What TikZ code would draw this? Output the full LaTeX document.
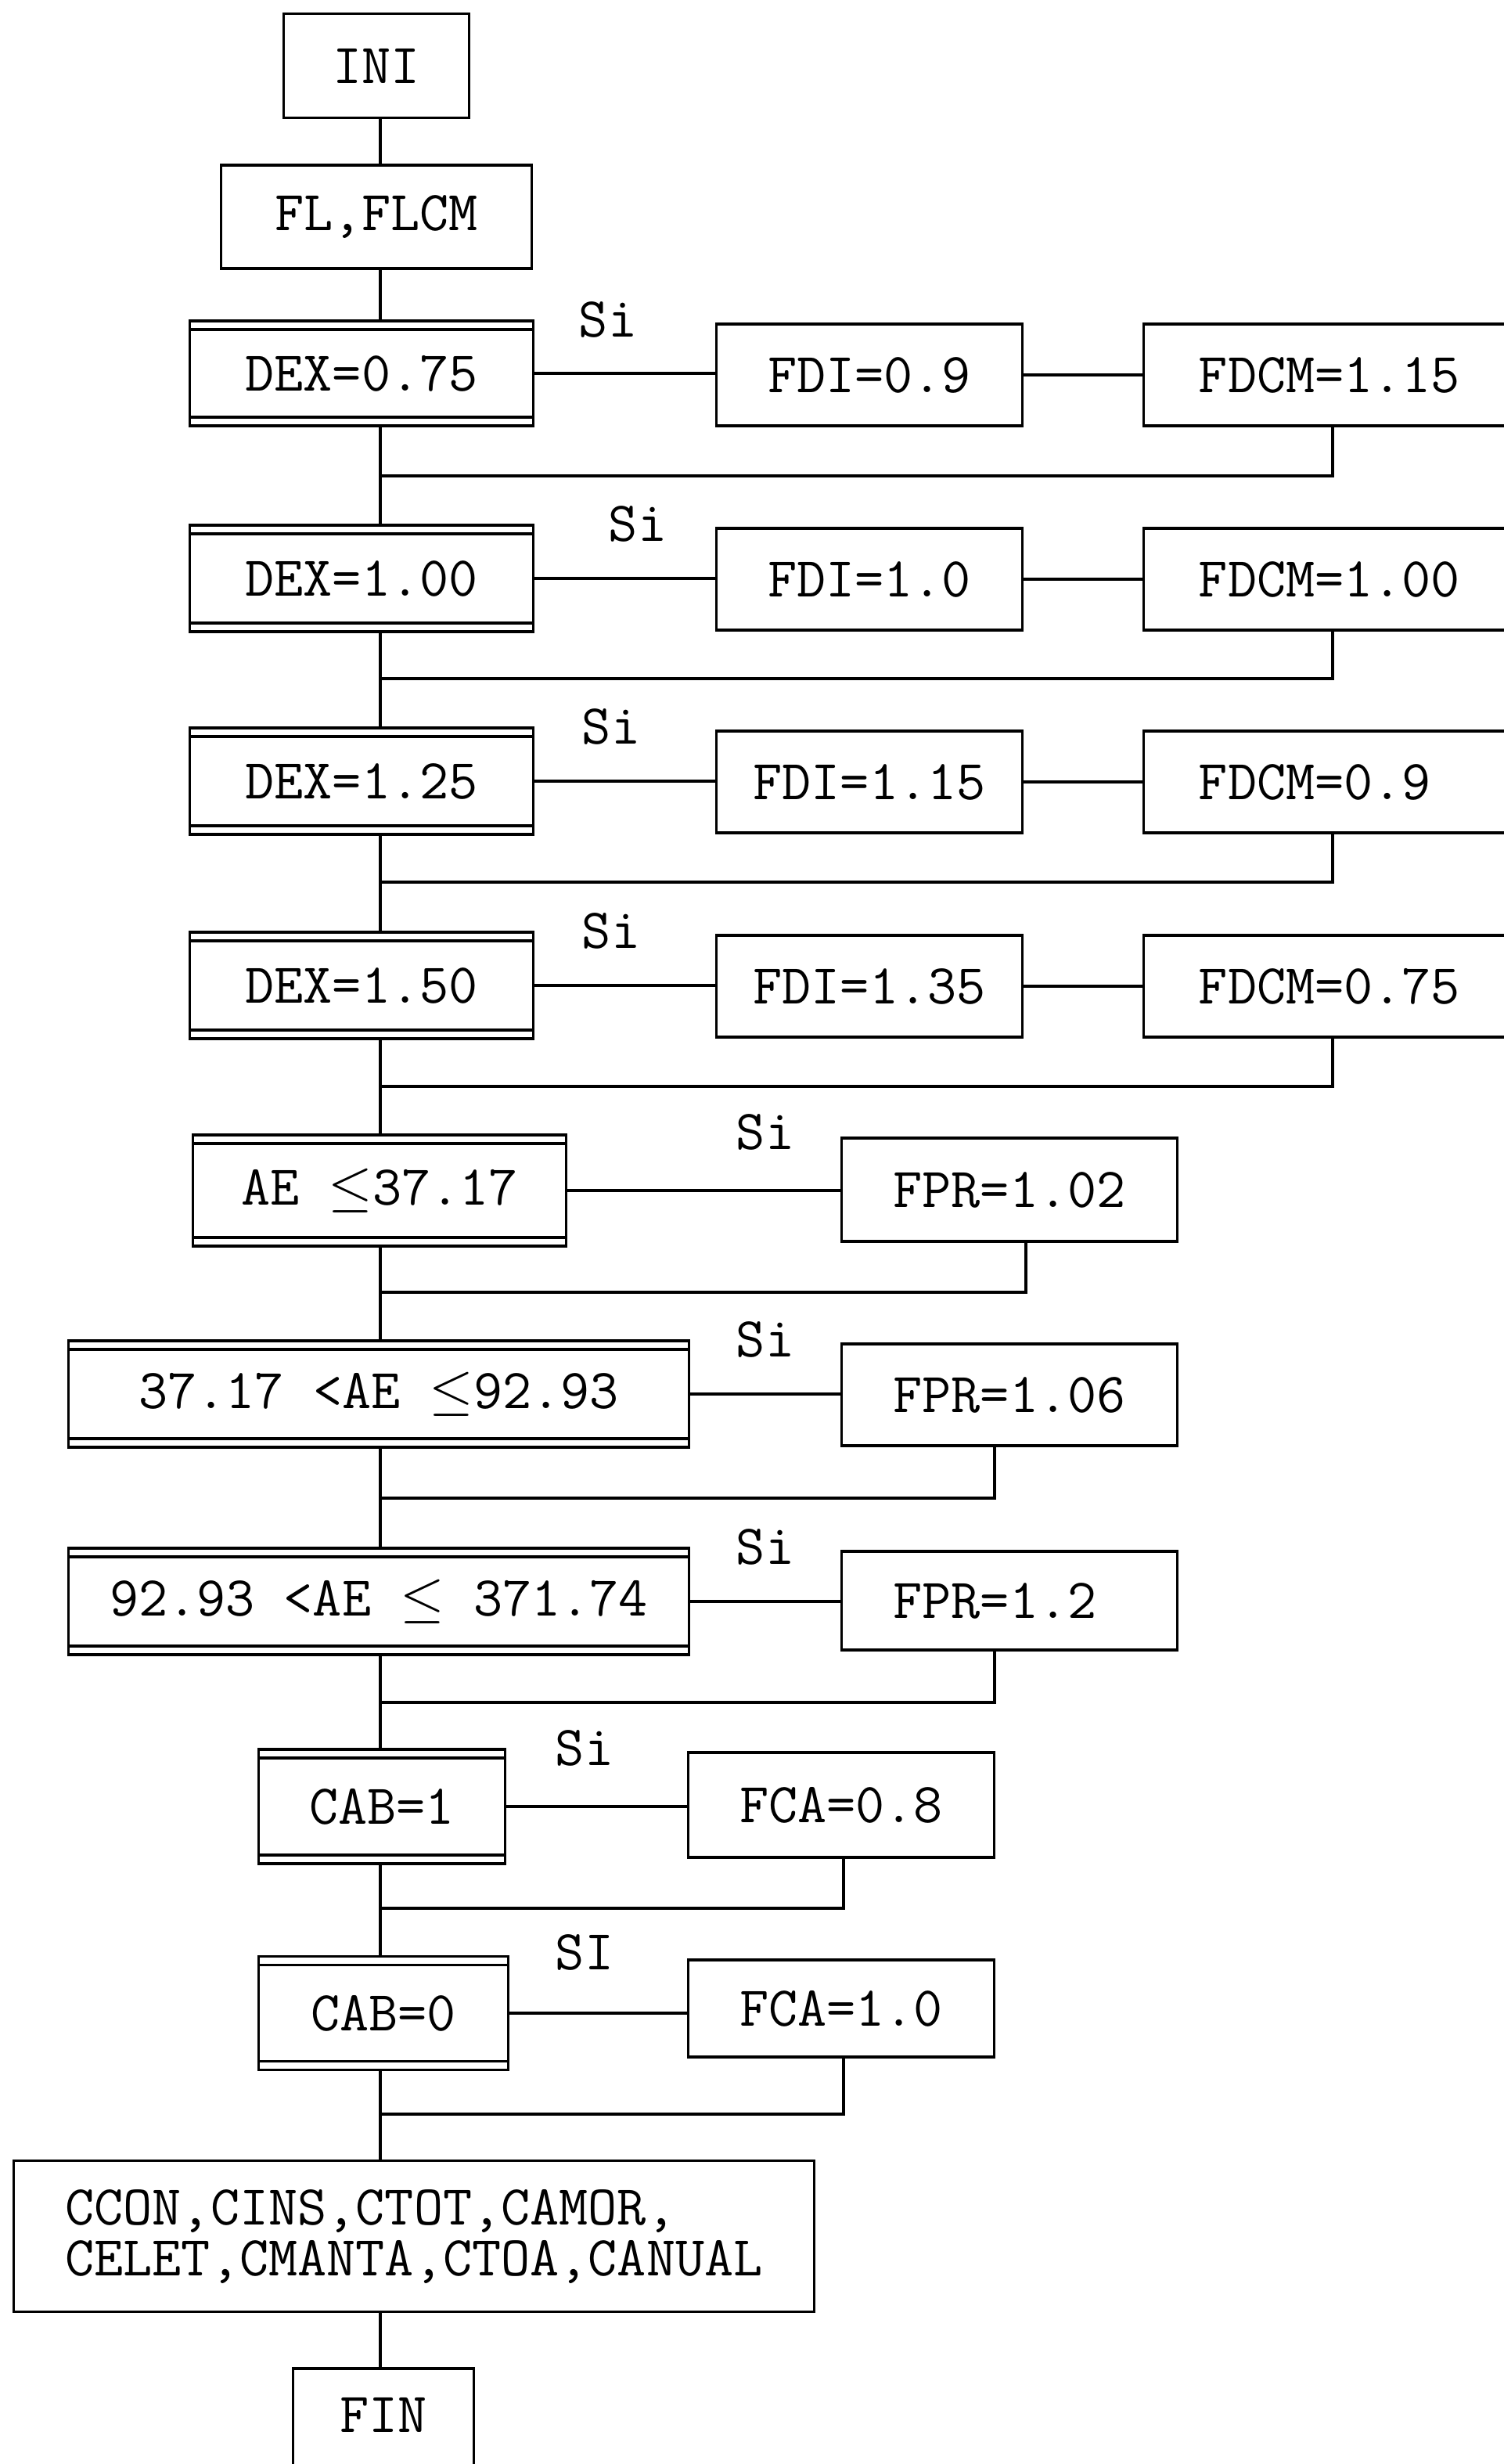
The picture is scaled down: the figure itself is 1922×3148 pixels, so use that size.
\documentclass[tikz,border=0pt]{standalone}
\newcommand{\myfont}{\ttfamily\fontsize{20.5}{27}\selectfont}
\tikzset{
  bx/.style={draw, line width=0.9pt, inner sep=0pt, font=\myfont},
  dec/.style={bx, path picture={
      \draw[line width=0.9pt] ([yshift=-0.11cm]path picture bounding box.north west) -- ([yshift=-0.11cm]path picture bounding box.north east);
      \draw[line width=0.9pt] ([yshift=0.11cm]path picture bounding box.south west) -- ([yshift=0.11cm]path picture bounding box.south east);}},
  ln/.style={line width=0.9pt},
  lbl/.style={font=\myfont, inner sep=0pt}
}
\begin{document}
\begin{tikzpicture}[x=0.01cm,y=-0.01cm]
\useasboundingbox (0,0) rectangle (1922,3148);
\clip (0,0) rectangle (1922,3148);
\coordinate (t) at (486,0);
% top
\node[bx, minimum width=2.37cm, minimum height=1.33cm] (ini) at (481,84) {INI};
\node[bx, minimum width=3.96cm, minimum height=1.32cm] (fl) at (481,277) {FL,FLCM};
% DEX rows
\node[dec, minimum width=4.38cm, minimum height=1.34cm] (dex1) at (462,477) {DEX=0.75};
\node[bx, minimum width=3.91cm, minimum height=1.30cm] (fdi1) at (1111,479) {FDI=0.9};
\node[bx, minimum width=6.00cm, minimum height=1.30cm, text width=4.6cm, align=left] (fdcm1) at (1762,479) {FDCM=1.15};
\node[lbl] (s1) at (777,408) {Si};

\node[dec, minimum width=4.38cm, minimum height=1.36cm] (dex2) at (462,739) {DEX=1.00};
\node[bx, minimum width=3.91cm, minimum height=1.30cm] (fdi2) at (1111,740) {FDI=1.0};
\node[bx, minimum width=6.00cm, minimum height=1.30cm, text width=4.6cm, align=left] (fdcm2) at (1762,740) {FDCM=1.00};
\node[lbl] (s2) at (815,669) {Si};

\node[dec, minimum width=4.38cm, minimum height=1.36cm] (dex3) at (462,998) {DEX=1.25};
\node[bx, minimum width=3.91cm, minimum height=1.30cm] (fdi3) at (1111,999) {FDI=1.15};
\node[bx, minimum width=6.00cm, minimum height=1.30cm, text width=4.6cm, align=left] (fdcm3) at (1762,999) {FDCM=0.9};
\node[lbl] (s3) at (781,928) {Si};

\node[dec, minimum width=4.38cm, minimum height=1.36cm] (dex4) at (462,1259) {DEX=1.50};
\node[bx, minimum width=3.91cm, minimum height=1.30cm] (fdi4) at (1111,1260) {FDI=1.35};
\node[bx, minimum width=6.00cm, minimum height=1.30cm, text width=4.6cm, align=left] (fdcm4) at (1762,1260) {FDCM=0.75};
\node[lbl] (s4) at (781,1189) {Si};

% AE rows
\node[dec, minimum width=4.76cm, minimum height=1.42cm] (ae1) at (485,1521) {AE $\leq$37.17};
\node[bx, minimum width=4.28cm, minimum height=1.32cm] (fpr1) at (1290,1520) {FPR=1.02};
\node[lbl] (s5) at (978,1446) {Si};

\node[dec, minimum width=7.92cm, minimum height=1.36cm] (ae2) at (484,1781) {37.17 <AE $\leq$92.93};
\node[bx, minimum width=4.28cm, minimum height=1.30cm] (fpr2) at (1290,1782) {FPR=1.06};
\node[lbl] (s6) at (978,1711) {Si};

\node[dec, minimum width=7.92cm, minimum height=1.36cm] (ae3) at (484,2046) {92.93 <AE $\leq$ 371.74};
\node[bx, minimum width=4.28cm, minimum height=1.26cm] (fpr3) at (1290,2045) {FPR=1.2\phantom{0}};
\node[lbl] (s7) at (978,1976) {Si};

% CAB rows
\node[dec, minimum width=3.14cm, minimum height=1.46cm] (cab1) at (488,2308) {CAB=1};
\node[bx, minimum width=3.91cm, minimum height=1.34cm] (fca1) at (1075,2306) {FCA=0.8};
\node[lbl] (s8) at (747,2233) {Si};

\node[dec, minimum width=3.18cm, minimum height=1.45cm] (cab0) at (490,2572) {CAB=0};
\node[bx, minimum width=3.91cm, minimum height=1.24cm] (fca0) at (1075,2566) {FCA=1.0};
\node[lbl] (s9) at (747,2494) {SI};

% end
\node[bx, minimum width=10.22cm, minimum height=1.93cm, align=left, font=\ttfamily\fontsize{20.5}{18.5}\selectfont] (cc) at (529,2857) {CCON,CINS,CTOT,CAMOR,\\CELET,CMANTA,CTOA,CANUAL};
\node[bx, minimum width=2.31cm, minimum height=1.60cm, text depth=0pt] (fin) at (490,3106) {\raisebox{0.42cm}{FIN}};

% trunk
\draw[ln] (ini.south -| t) -- (fl.north -| t);
\draw[ln] (fl.south -| t) -- (dex1.north -| t);
\draw[ln] (dex1.south -| t) -- (dex2.north -| t);
\draw[ln] (dex2.south -| t) -- (dex3.north -| t);
\draw[ln] (dex3.south -| t) -- (dex4.north -| t);
\draw[ln] (dex4.south -| t) -- (ae1.north -| t);
\draw[ln] (ae1.south -| t) -- (ae2.north -| t);
\draw[ln] (ae2.south -| t) -- (ae3.north -| t);
\draw[ln] (ae3.south -| t) -- (cab1.north -| t);
\draw[ln] (cab1.south -| t) -- (cab0.north -| t);
\draw[ln] (cab0.south -| t) -- (cc.north -| t);
\draw[ln] (cc.south -| t) -- (fin.north -| t);

% branches
\foreach \i in {1,2,3,4}{
  \draw[ln] (dex\i.east) -- (dex\i.east -| fdi\i.west);
  \draw[ln] (fdi\i.east) -- (fdi\i.east -| fdcm\i.west);
}
\draw[ln] (ae1.east) -- (ae1.east -| fpr1.west);
\draw[ln] (ae2.east) -- (ae2.east -| fpr2.west);
\draw[ln] (ae3.east) -- (ae3.east -| fpr3.west);
\draw[ln] (cab1.east) -- (cab1.east -| fca1.west);
\draw[ln] (cab0.east) -- (cab0.east -| fca0.west);

% merges
\coordinate (m1) at (1703,608);
\coordinate (m2) at (1703,867);
\coordinate (m3) at (1703,1127);
\coordinate (m4) at (1703,1388);
\coordinate (m5) at (1311,1651);
\coordinate (m6) at (1271,1914);
\coordinate (m7) at (1271,2175);
\coordinate (m8) at (1078,2438);
\coordinate (m9) at (1078,2701);
\draw[ln] (fdcm1.south -| m1) -- (m1) -- (m1 -| t);
\draw[ln] (fdcm2.south -| m2) -- (m2) -- (m2 -| t);
\draw[ln] (fdcm3.south -| m3) -- (m3) -- (m3 -| t);
\draw[ln] (fdcm4.south -| m4) -- (m4) -- (m4 -| t);
\draw[ln] (fpr1.south -| m5) -- (m5) -- (m5 -| t);
\draw[ln] (fpr2.south -| m6) -- (m6) -- (m6 -| t);
\draw[ln] (fpr3.south -| m7) -- (m7) -- (m7 -| t);
\draw[ln] (fca1.south -| m8) -- (m8) -- (m8 -| t);
\draw[ln] (fca0.south -| m9) -- (m9) -- (m9 -| t);
\end{tikzpicture}
\end{document}
